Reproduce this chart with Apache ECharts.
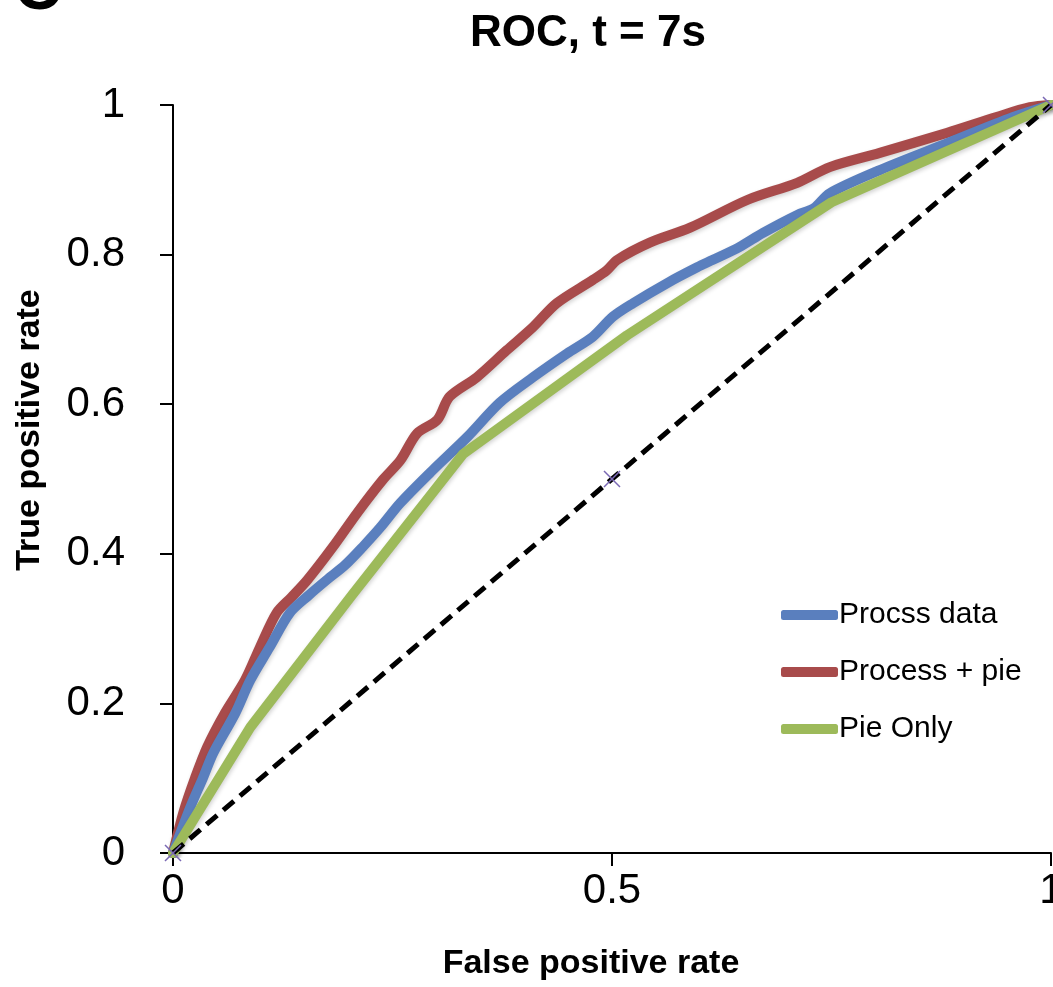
<!DOCTYPE html>
<html>
<head>
<meta charset="utf-8">
<script src="https://cdn.jsdelivr.net/npm/echarts@6/dist/echarts.min.js"></script>
<style>
html,body{margin:0;padding:0;background:#fff;}
#chart{width:1053px;height:987px;}
</style>
</head>
<body>
<div id="chart"></div>
<script>
// ---- data ----
const titleText = 'ROC, t = 7s';
const xTitle = 'False positive rate';
const yTitle = 'True positive rate';
const seriesNames = ['Procss data', 'Process + pie', 'Pie Only'];

const procssFpr = [0,0.020,0.034,0.046,0.071,0.088,0.110,0.133,0.155,0.175,0.196,0.216,0.236,0.259,0.296,0.335,0.372,0.410,0.449,0.478,0.501,0.524,0.563,0.597,0.615,0.645,0.672,0.711,0.730,0.748,0.805,0.882,0.957,1];
const procssTpr = [0,0.062,0.100,0.134,0.187,0.231,0.275,0.321,0.345,0.365,0.385,0.409,0.435,0.468,0.512,0.556,0.602,0.636,0.668,0.690,0.717,0.735,0.762,0.783,0.793,0.810,0.829,0.853,0.862,0.882,0.913,0.949,0.984,1];

const pieProcFpr = [0,0.012,0.025,0.039,0.059,0.082,0.099,0.118,0.135,0.153,0.182,0.210,0.239,0.259,0.278,0.301,0.315,0.346,0.380,0.410,0.437,0.478,0.494,0.506,0.543,0.589,0.654,0.711,0.748,0.805,0.882,0.938,0.976,1];
const pieProcTpr = [0,0.055,0.100,0.142,0.187,0.231,0.275,0.321,0.342,0.365,0.409,0.455,0.499,0.525,0.561,0.579,0.610,0.636,0.672,0.703,0.735,0.766,0.779,0.793,0.816,0.836,0.873,0.896,0.917,0.936,0.963,0.984,0.997,1];

const pieOnlyFpr = [0,0.088,0.204,0.330,0.517,0.750,1];
const pieOnlyTpr = [0,0.168,0.345,0.533,0.692,0.870,1];

const chanceFpr = [0,0.5,1];
const chanceTpr = [0,0.5,1];

function pairs(xs, ys){ return xs.map((x,i)=>[x, ys[i]]); }
function fmt(v){ return String(+v.toFixed(2)); }

const chart = echarts.init(document.getElementById('chart'), null, {renderer:'canvas'});
const FONT = '"Liberation Sans", Arial, sans-serif';
const lineShadow = {shadowColor:'rgba(0,0,0,0.18)', shadowBlur:4, shadowOffsetX:1, shadowOffsetY:2};

chart.setOption({
  animation:false,
  backgroundColor:'#fff',
  textStyle:{fontFamily:FONT},
  title:{
    text:titleText, left:583, top:7, textAlign:'center',
    textStyle:{fontFamily:FONT, fontSize:44, fontWeight:'bold', color:'#000'}
  },
  graphic:[{
    type:'text', left:14, top:-42,
    style:{text:'C', font:'bold 66px "Liberation Sans", Arial, sans-serif', fill:'#000'}
  }],
  legend:{
    data:seriesNames,
    orient:'vertical', left:776, top:595,
    itemWidth:57, itemHeight:10, itemGap:27,
    icon:'roundRect',
    textStyle:{fontFamily:FONT, fontSize:30, color:'#000', padding:[0,0,0,-4]}
  },
  grid:{left:173, right:2, top:105, bottom:134, containLabel:false, outerBoundsMode:'none'},
  xAxis:{
    type:'value', min:0, max:1, interval:0.5,
    name:xTitle, nameLocation:'middle', nameGap:94,
    nameTextStyle:{fontFamily:FONT, fontSize:34, fontWeight:'bold', color:'#000', padding:[0,42,0,0]},
    axisLine:{show:true, onZero:false, lineStyle:{color:'#000', width:2}},
    axisTick:{show:true, length:13, lineStyle:{color:'#000', width:2}},
    splitLine:{show:false},
    axisLabel:{fontFamily:FONT, fontSize:42, color:'#000', margin:17, formatter:fmt, showMaxLabel:true, hideOverlap:false}
  },
  yAxis:{
    type:'value', min:0, max:1, interval:0.2,
    name:yTitle, nameLocation:'middle', nameGap:126,
    nameTextStyle:{fontFamily:FONT, fontSize:34, fontWeight:'bold', color:'#000', padding:[0,0,0,98]},
    axisLine:{show:true, onZero:false, lineStyle:{color:'#000', width:2}},
    axisTick:{show:true, length:13, lineStyle:{color:'#000', width:2}},
    splitLine:{show:false},
    axisLabel:{fontFamily:FONT, fontSize:42, color:'#000', margin:48, formatter:fmt}
  },
  series:[
    {
      name:seriesNames[1], type:'line', data:pairs(pieProcFpr, pieProcTpr),
      smooth:0.3, showSymbol:false, z:2,
      itemStyle:{color:'#A84B4B'},
      lineStyle:Object.assign({color:'#A84B4B', width:10, cap:'round', join:'round'}, lineShadow)
    },
    {
      name:seriesNames[0], type:'line', data:pairs(procssFpr, procssTpr),
      smooth:0.3, showSymbol:false, z:3,
      itemStyle:{color:'#5A7FBE'},
      lineStyle:Object.assign({color:'#5A7FBE', width:10, cap:'round', join:'round'}, lineShadow)
    },
    {
      name:seriesNames[2], type:'line', data:pairs(pieOnlyFpr, pieOnlyTpr),
      smooth:false, showSymbol:false, z:4,
      itemStyle:{color:'#9DBA5A'},
      lineStyle:Object.assign({color:'#9DBA5A', width:10, cap:'round', join:'round'}, lineShadow)
    },
    {
      name:'chance', type:'line', data:pairs(chanceFpr, chanceTpr),
      showSymbol:true, symbol:'path://M0,0L10,10M10,0L0,10', symbolSize:16, z:5,
      itemStyle:{color:'none', borderColor:'#7A68B4', borderWidth:1.5},
      lineStyle:{color:'#000', width:5, type:[14,8]}
    }
  ]
});
</script>
</body>
</html>
